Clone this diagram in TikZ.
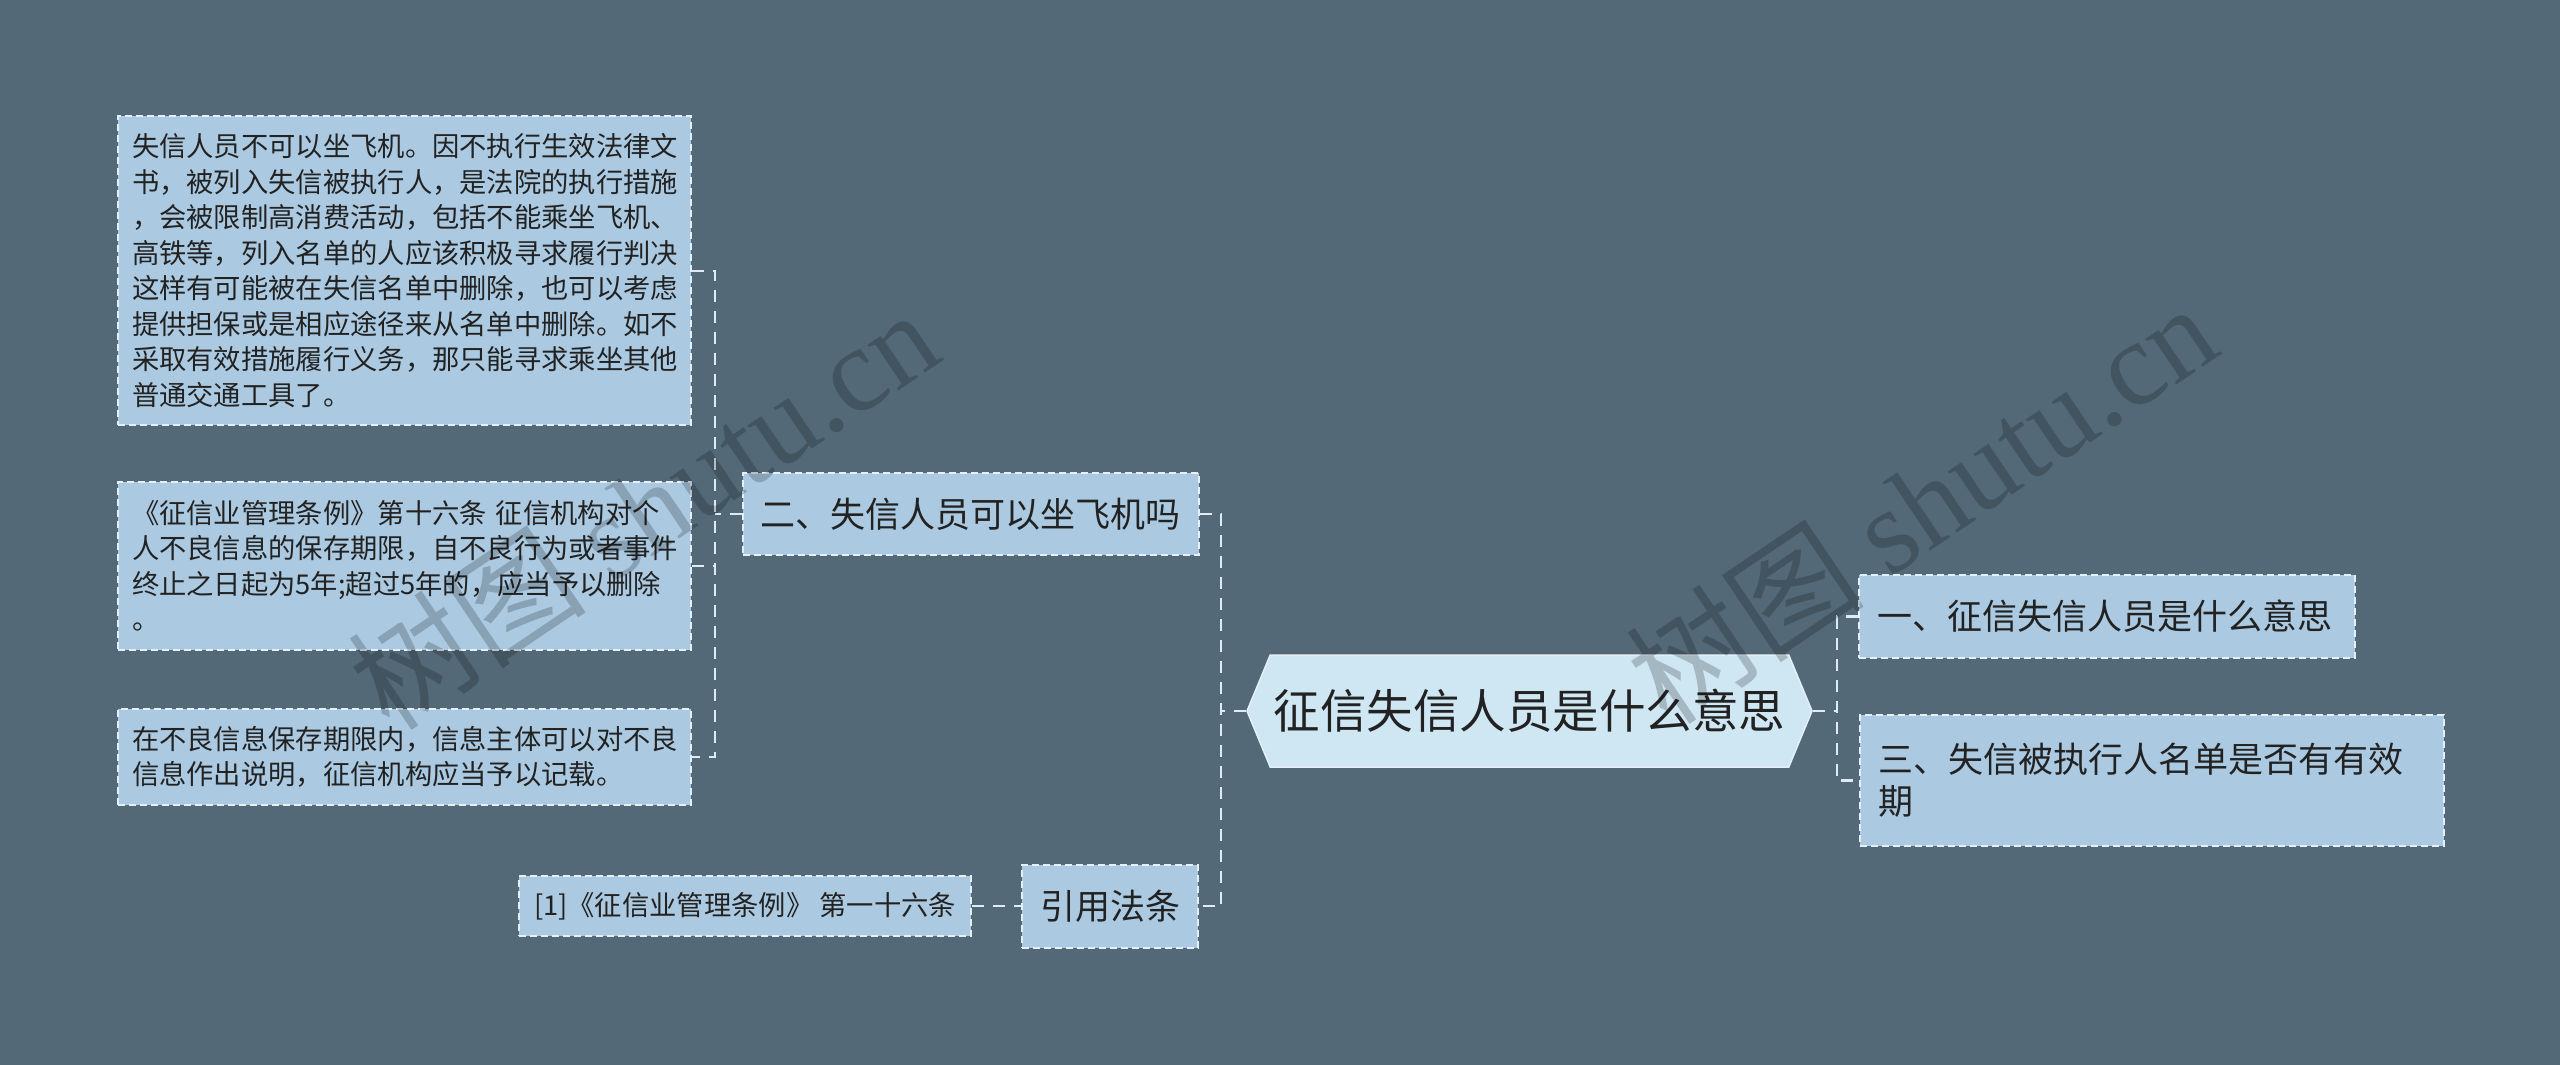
\documentclass[tikz,border=0pt]{standalone}
\usepackage{fontspec}
\setmainfont{Noto Sans CJK SC}
\newfontfamily\wmlatin{Liberation Serif}
\usetikzlibrary{shapes.symbols}
\definecolor{bgc}{RGB}{83,105,120}
\definecolor{boxfill}{RGB}{171,202,225}
\definecolor{rootfill}{RGB}{207,230,243}
\definecolor{txt}{RGB}{34,34,34}
\definecolor{edgec}{RGB}{228,240,248}
\definecolor{connc}{RGB}{222,235,244}
\tikzset{
  leaf/.style={draw=edgec, line width=2pt, dash pattern=on 7pt off 4pt, fill=boxfill,
    text=txt, align=left, inner xsep=14pt, inner ysep=4pt, anchor=center,
    font=\fontsize{27.3}{35.5}\selectfont},
  topic/.style={leaf, inner xsep=18pt, font=\fontsize{35}{42}\selectfont},
  rootnode/.style={signal, signal to=west and east, signal pointer angle=135,
    draw=edgec, line width=1.5pt, fill=rootfill, text=txt, inner sep=0pt,
    font=\fontsize{46.5}{50}\selectfont},
  conn/.style={draw=connc, line width=2.5pt, dash pattern=on 12pt off 9pt},
  wm/.style={text=black, opacity=0.2, rotate=34, anchor=base, inner sep=0pt,
    font=\fontsize{120}{120}\selectfont}
}
\begin{document}
\begin{tikzpicture}[x=1pt,y=-1pt]
\useasboundingbox (0,0) rectangle (2560,1065);
\fill[bgc] (0,0) rectangle (2560,1065);

% root
\node[rootnode, minimum width=565pt, minimum height=112pt] (root) at (1529.5,711) {征信失信人员是什么意思};

% level 1
\node[topic, minimum width=455pt, minimum height=82pt] (n2) at (970.5,514) {二、失信人员可以坐飞机吗};
\node[topic, minimum width=176pt, minimum height=83pt] (cite) at (1110,906) {引用法条};
\node[topic, minimum width=492pt, minimum height=83pt, text width=460pt] (n1) at (2107,616.5) {一、征信失信人员是什么意思};
\node[topic, minimum width=582pt, minimum height=131pt, text width=548pt] (n3) at (2152,780.5) {三、失信被执行人名单是否有有效\\期};

% leaves
\node[leaf, minimum width=573pt, minimum height=309pt, text width=545pt] (b1) at (404.5,270.5) {失信人员不可以坐飞机。因不执行生效法律文\\
书，被列入失信被执行人，是法院的执行措施\\
，会被限制高消费活动，包括不能乘坐飞机、\\
高铁等，列入名单的人应该积极寻求履行判决\\
这样有可能被在失信名单中删除，也可以考虑\\
提供担保或是相应途径来从名单中删除。如不\\
采取有效措施履行义务，那只能寻求乘坐其他\\
普通交通工具了。};
\node[leaf, minimum width=573pt, minimum height=168pt, text width=545pt] (b2) at (404.5,566) {《征信业管理条例》第十六条 征信机构对个\\
人不良信息的保存期限，自不良行为或者事件\\
终止之日起为5年;超过5年的，应当予以删除\\
。};
\node[leaf, minimum width=573pt, minimum height=96pt, text width=545pt] (b3) at (404.5,757) {在不良信息保存期限内，信息主体可以对不良\\
信息作出说明，征信机构应当予以记载。};
\node[leaf, minimum width=452pt, minimum height=60pt, inner xsep=12pt] (ref) at (745,906) {[1]《征信业管理条例》 第一十六条};

% connectors
\coordinate (jl) at (1221,711);
\coordinate (jr) at (1837,711);
\coordinate (jll) at (715,514);
\draw[conn] (root.west) -- (jl);
\draw[conn] (n2.east) -| (jl) |- (cite.east);
\draw[conn] (root.east) -- (jr);
\draw[conn] (n1.west) -| (jr) |- (n3.west);
\draw[conn, line width=2pt] (n2.west) -- (jll);
\draw[conn, line width=2pt] (b1.east) -| (jll) |- (b3.east);
\draw[conn, line width=2pt] (b2.east) -- (b2.east -| jll);
\draw[conn] (ref.east) -- (cite.west);

% watermarks
\node[wm] (wm1) at (668,546) {树图 {\wmlatin shutu.cn}};
\node[wm] (wm2) at (1946,540) {树图 {\wmlatin shutu.cn}};
\end{tikzpicture}
\end{document}
